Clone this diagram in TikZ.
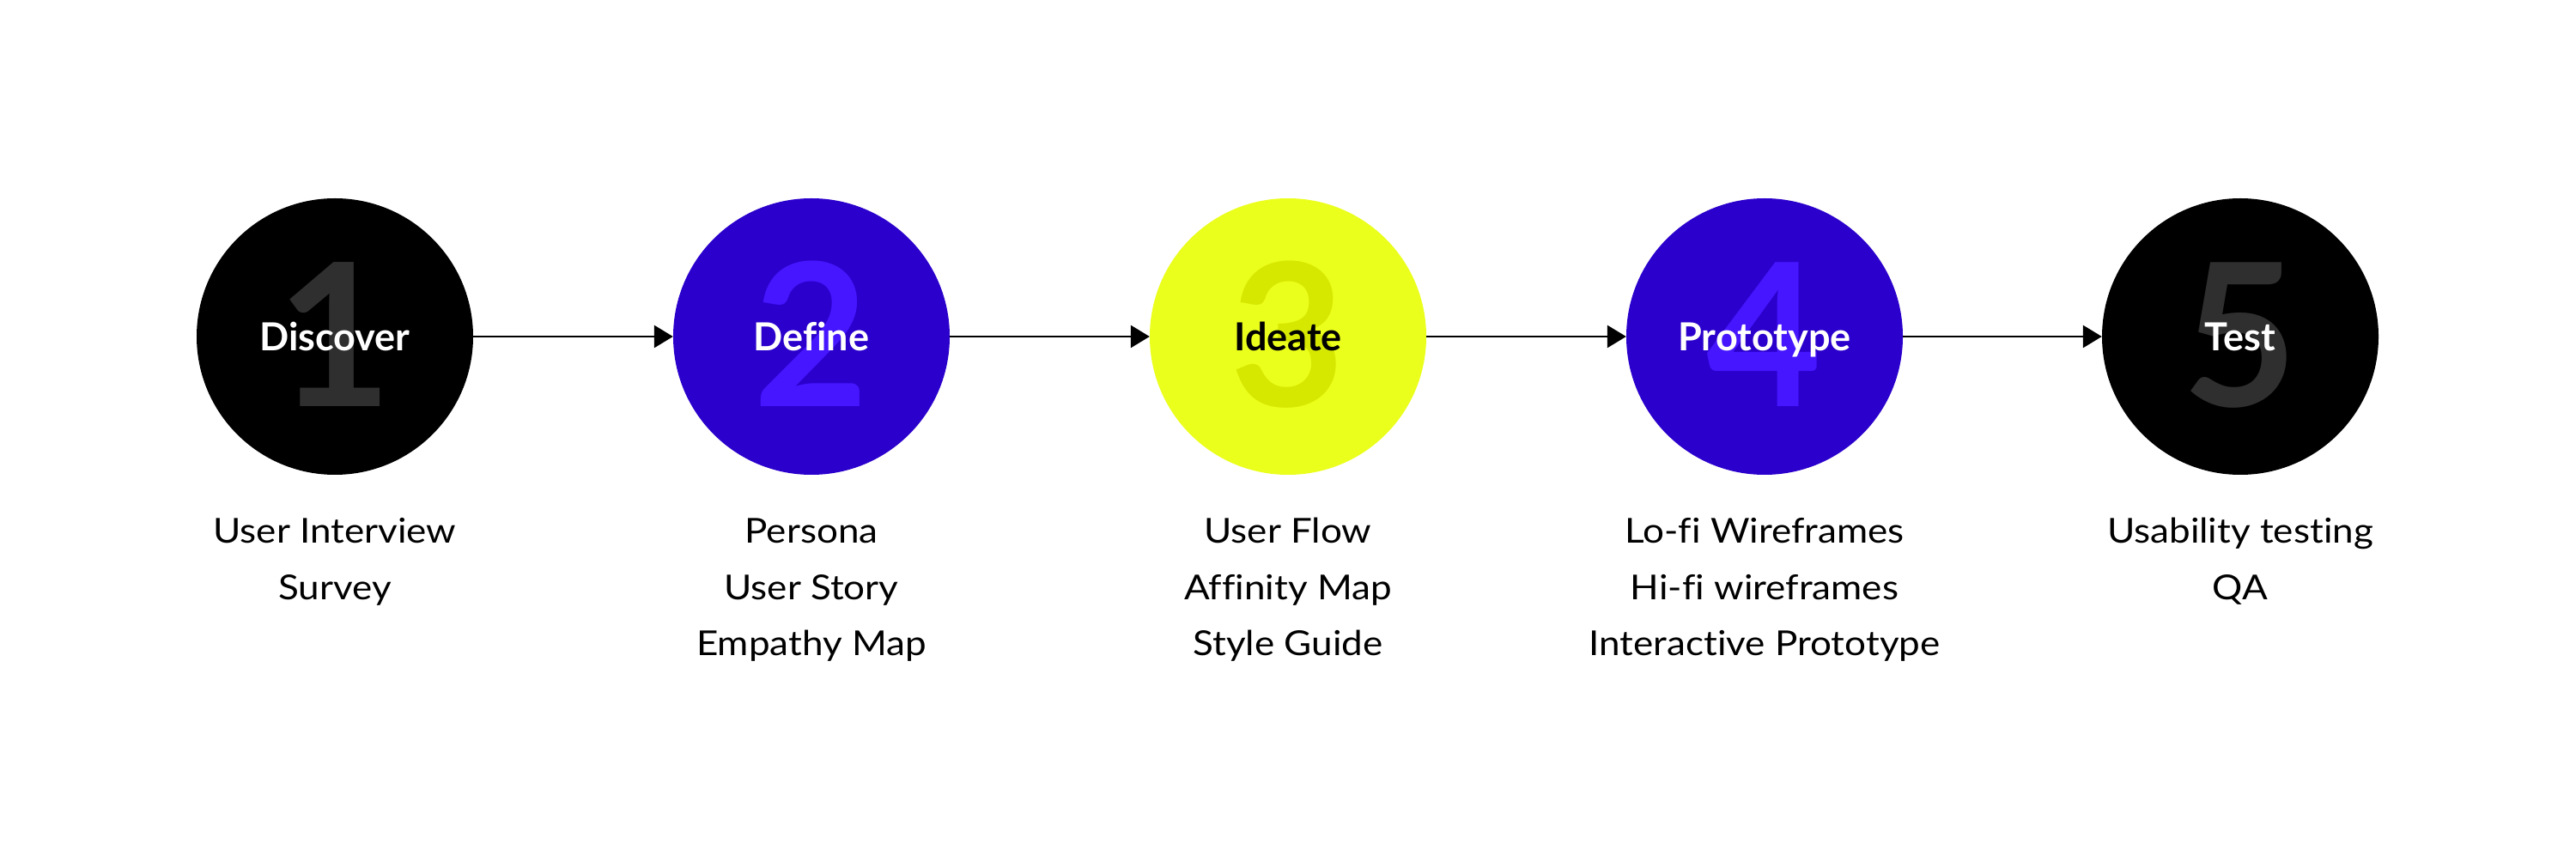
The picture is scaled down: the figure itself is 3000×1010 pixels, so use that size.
\documentclass[tikz,border=0pt]{standalone}
\usepackage{fontspec}
\setmainfont{Lato}[Ligatures={NoCommon}]
\newfontfamily\itemfont{Lato}[Ligatures={NoCommon}, FakeStretch=1.1]
\usetikzlibrary{arrows.meta,positioning}

\definecolor{inkblack}{HTML}{000000}
\definecolor{digitgray}{HTML}{2F2F2F}
\definecolor{deepblue}{HTML}{2B00CC}
\definecolor{brightblue}{HTML}{4516FF}
\definecolor{lime}{HTML}{EBFF1C}
\definecolor{darklime}{HTML}{D6E800}

\tikzset{
  stage/.style={circle, minimum size=322pt, inner sep=0pt, draw=none},
  bignum/.style={anchor=base, inner sep=0pt, font=\fontsize{232}{232}\selectfont\bfseries},
  title/.style={anchor=base, inner sep=0pt, font=\fontsize{45}{45}\selectfont\bfseries},
  item/.style={anchor=base, inner sep=0pt, font=\itemfont\fontsize{40}{40}\selectfont, text=black},
  flow/.style={line width=2.7pt, -{Triangle[length=22pt,width=26pt]}}
}

\begin{document}
\begin{tikzpicture}[x=1pt,y=1pt]
  % page area
  \fill[white] (0,0) rectangle (3000,1010);
  \useasboundingbox (0,0) rectangle (3000,1010);

  % stage circles
  \node[stage, fill=inkblack]  (s1) at (390,618)  {};
  \node[stage, fill=deepblue]  (s2) at (945,618)  {};
  \node[stage, fill=lime]      (s3) at (1500,618) {};
  \node[stage, fill=deepblue]  (s4) at (2055,618) {};
  \node[stage, fill=inkblack]  (s5) at (2609,618) {};

  % large step numbers behind the titles
  \node[bignum, text=digitgray]  (n1) at ([yshift=-82pt]s1.center) {1};
  \node[bignum, text=brightblue] (n2) at ([yshift=-82pt]s2.center) {2};
  \node[bignum, text=darklime]   (n3) at ([yshift=-82pt]s3.center) {3};
  \node[bignum, text=brightblue] (n4) at ([yshift=-82pt]s4.center) {4};
  \node[bignum, text=digitgray]  (n5) at ([yshift=-82pt]s5.center) {5};

  % stage titles
  \node[title, text=white] (t1) at ([yshift=-17pt]s1.center) {Discover};
  \node[title, text=white] (t2) at ([yshift=-17pt]s2.center) {Define};
  \node[title, text=black] (t3) at ([yshift=-17pt]s3.center) {Ideate};
  \node[title, text=white] (t4) at ([yshift=-17pt]s4.center) {Prototype};
  \node[title, text=white] (t5) at ([yshift=-17pt]s5.center) {Test};

  % connectors
  \draw[flow] (s1.east) -- (s2.west);
  \draw[flow] (s2.east) -- (s3.west);
  \draw[flow] (s3.east) -- (s4.west);
  \draw[flow] (s4.east) -- (s5.west);

  % activities under each stage
  \node[item] (a11) at (390,377) {User Interview};
  \node[item] (a12) at (390,312) {Survey};

  \node[item] (a21) at (945,377) {Persona};
  \node[item] (a22) at (945,312) {User Story};
  \node[item] (a23) at (945,247) {Empathy Map};

  \node[item] (a31) at (1500,377) {User Flow};
  \node[item] (a32) at (1500,312) {Affinity Map};
  \node[item] (a33) at (1500,247) {Style Guide};

  \node[item] (a41) at (2055,377) {Lo-fi Wireframes};
  \node[item] (a42) at (2055,312) {Hi-fi wireframes};
  \node[item] (a43) at (2055,247) {Interactive Prototype};

  \node[item] (a51) at (2609,377) {Usability testing};
  \node[item] (a52) at (2609,312) {QA};
\end{tikzpicture}
\end{document}
